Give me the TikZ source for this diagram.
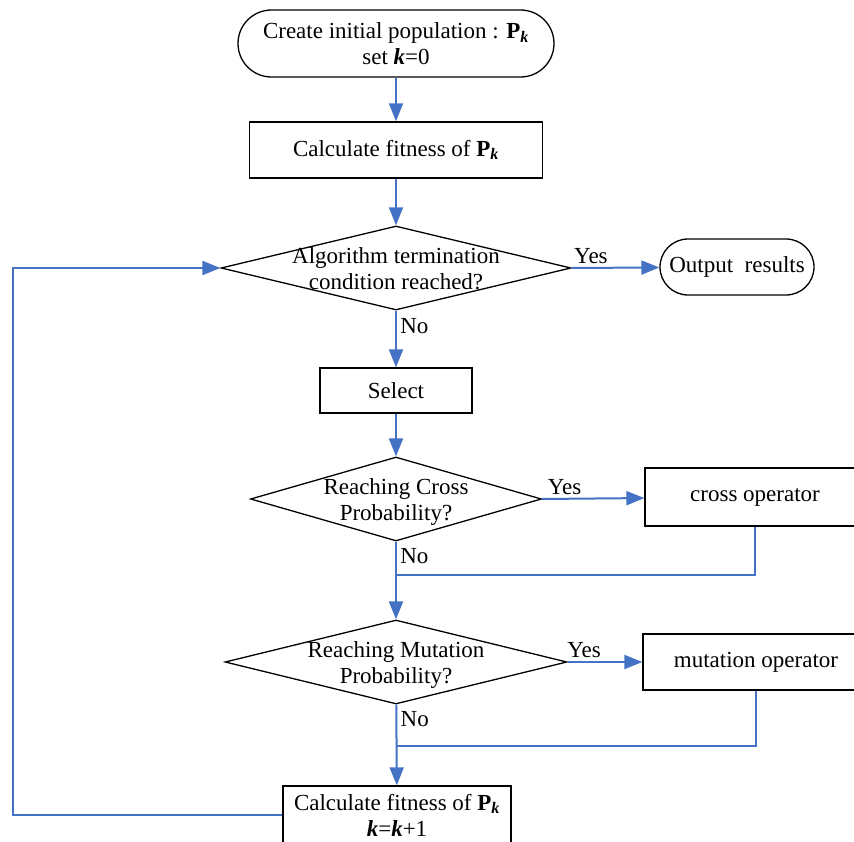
\documentclass[tikz,border=0pt]{standalone}
\usepackage{fontspec}
\setmainfont{Liberation Serif}
\usetikzlibrary{shapes.geometric,arrows.meta}
\definecolor{flowblue}{RGB}{68,114,196}
\newcommand{\Pk}{\textbf{P}\textsubscript{\textbf{\textit{k}}}}
\newcommand{\kk}{\textbf{\textit{k}}}
\newcommand{\diamtext}[1]{\makebox[0pt]{\smash{\raisebox{-9.5pt}{\begin{tabular}{@{}c@{}}#1\end{tabular}}}}}
\begin{document}
\begin{tikzpicture}[x=1pt, y=-1pt, font=\fontsize{23}{26}\selectfont, line width=1.3pt,
    term/.style={draw, rectangle, rounded corners=28pt, minimum height=56pt, align=center},
    box/.style={draw, rectangle, minimum height=56pt, align=center},
    test/.style={draw, diamond, inner sep=0pt},
    flow/.style={draw=flowblue, line width=2pt, -{Triangle[length=18pt,width=14pt]}},
    link/.style={draw=flowblue, line width=2pt}]
      \useasboundingbox (0,0) rectangle (854,842);
      \node[term, minimum width=316pt, minimum height=67pt, rounded corners=33.5pt] (start) at (396,43.5) {Create initial population : \Pk\\ set \kk=0} ;
      \node[box, minimum width=293pt] (fit) at (396,150) {Calculate fitness of \Pk} ;
      \node[test, minimum width=350pt, minimum height=84pt] (stop) at (396,268) {\diamtext{Algorithm termination\\ condition reached?}} ;
      \node[term, minimum width=154pt] (out) at (737,267) {Output\ \ results} ;
      \node[box, minimum width=152pt, minimum height=45pt] (sel) at (396,390.5) {Select} ;
      \node[test, minimum width=291pt, minimum height=84pt] (cross) at (396,499) {\diamtext{Reaching Cross\\ Probability?}} ;
      \node[box, minimum width=220pt, minimum height=58pt] (cop) at (755,497) {cross operator} ;
      \node[test, minimum width=342pt, minimum height=84pt] (mut) at (396,662) {\diamtext{Reaching Mutation\\ Probability?}} ;
      \node[box, minimum width=226pt, minimum height=56pt] (mop) at (756,662) {mutation operator} ;
      \node[box, minimum width=228pt, minimum height=58pt] (upd) at (397,815) {Calculate fitness of \Pk\\ \kk=\kk+1} ;
      \coordinate (j1) at (396,575) ;
      \coordinate (j2) at (396,746) ;
      \coordinate (loop) at (13,268) ;
      \draw[flow] (start) -- (fit) ;
      \draw[flow] (fit) -- (stop) ;
      \draw[flow] (stop.east) -- (out) node[pos=0.22, above] {Yes} ;
      \draw[flow] (stop) -- (sel) node[pos=0.28, right] {No} ;
      \draw[flow] (sel) -- (cross) ;
      \draw[flow] (cross.east) -- (cop) node[pos=0.22, above] {Yes} ;
      \draw[flow] (cross) -- (mut) node[pos=0.18, right] {No} ;
      \draw[link] (cop.south) |- (j1) ;
      \draw[flow] (mut.east) -- (mop) node[pos=0.22, above] {Yes} ;
      \draw[flow] (mut) -- (upd) node[pos=0.18, right] {No} ;
      \draw[link] (mop.south) |- (j2) ;
      \draw[flow] (upd.west) -| (loop) -- (stop.west) ;
    \end{tikzpicture}
\end{document}
